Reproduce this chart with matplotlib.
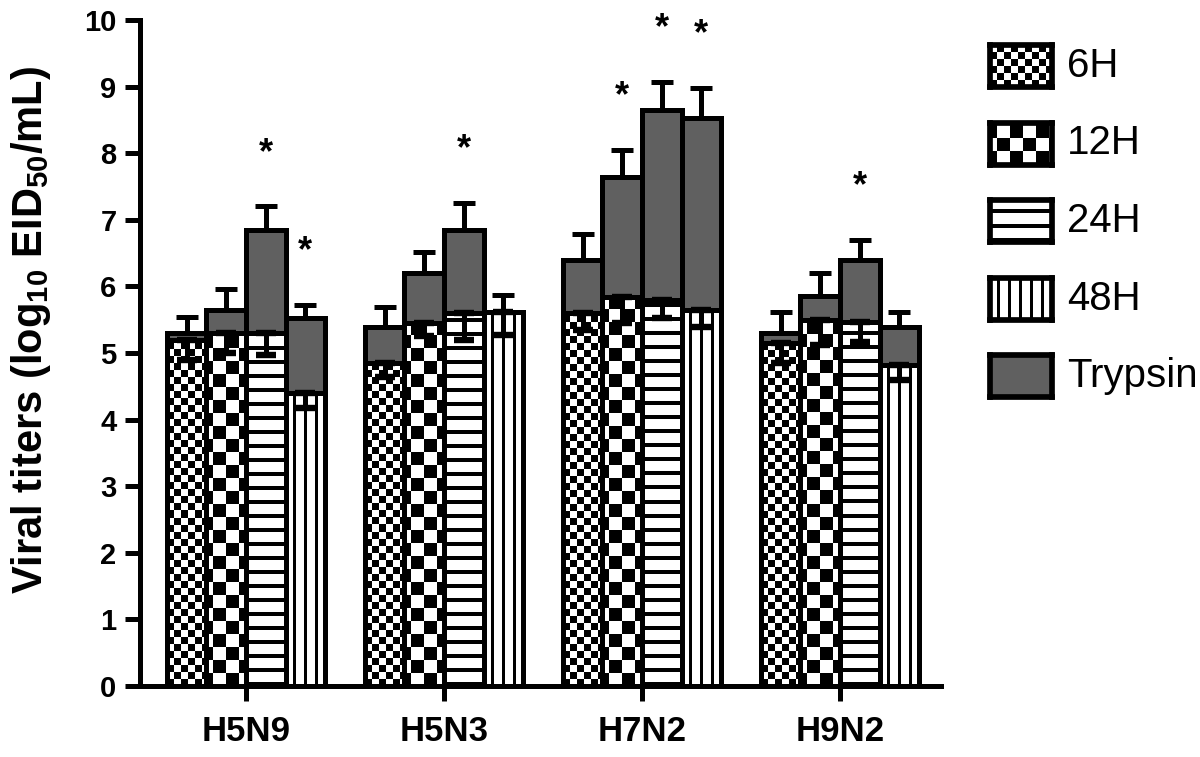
import numpy as np
import matplotlib
matplotlib.use("Agg")
import matplotlib.pyplot as plt

plt.rcParams['font.family'] = ['Liberation Sans', 'DejaVu Sans']
plt.rcParams['mathtext.fontset'] = 'custom'
plt.rcParams['mathtext.rm'] = 'Liberation Sans:bold'
plt.rcParams['mathtext.default'] = 'rm'

# data
groups = ["H5N9", "H5N3", "H7N2", "H9N2"]
hours = ["6H", "12H", "24H", "48H"]

hour_6h = [5.2, 4.85, 5.6, 5.15]
hour_12h = [5.3, 5.45, 5.84, 5.5]
hour_24h = [5.3, 5.6, 5.8, 5.47]
hour_48h = [4.4, 5.62, 5.65, 4.82]

hour_err_6h = [0.3, 0.21, 0.25, 0.3]
hour_err_12h = [0.3, 0.2, 0.39, 0.38]
hour_err_24h = [0.33, 0.4, 0.27, 0.3]
hour_err_48h = [0.23, 0.35, 0.26, 0.22]

tryp_6h = [5.3, 5.39, 6.4, 5.3]
tryp_12h = [5.65, 6.2, 7.64, 5.85]
tryp_24h = [6.85, 6.85, 8.65, 6.4]
tryp_48h = [5.52, 5.6, 8.53, 5.39]

tryp_err_6h = [0.24, 0.3, 0.38, 0.32]
tryp_err_12h = [0.31, 0.32, 0.41, 0.35]
tryp_err_24h = [0.35, 0.4, 0.42, 0.3]
tryp_err_48h = [0.2, 0.27, 0.45, 0.23]

# significance marks (*) per hour, per group
sig_6h = [False, False, False, False]
sig_12h = [False, False, True, False]
sig_24h = [True, True, True, True]
sig_48h = [True, False, True, False]

hour_vals = [hour_6h, hour_12h, hour_24h, hour_48h]
hour_errs = [hour_err_6h, hour_err_12h, hour_err_24h, hour_err_48h]
tryp_vals = [tryp_6h, tryp_12h, tryp_24h, tryp_48h]
tryp_errs = [tryp_err_6h, tryp_err_12h, tryp_err_24h, tryp_err_48h]
sigs = [sig_6h, sig_12h, sig_24h, sig_48h]

GRAY = "#606060"
LW = 3.6


def pattern(kind, h, w):
    i, j = np.mgrid[0:h, 0:w]
    i = h - 1 - i  # count rows from the bottom
    if kind == 0:
        return ((i // 7 + j // 7) % 2).astype(float)
    if kind == 1:
        return ((i // 13 + (j + 6) // 13) % 2).astype(float)
    if kind == 2:
        return (i % 14 >= 4).astype(float)
    return ((j + 4) % 11 >= 3).astype(float)


fig = plt.figure(figsize=(12, 7.57), dpi=100)
ax = fig.add_axes([140 / 1200, 71 / 757, 801 / 1200, 666 / 757])
ax.set_xlim(-0.535, 3.51)
ax.set_ylim(0, 10)

x = np.arange(len(groups))
width = 0.2
offsets = (np.arange(len(hours)) - 1.5) * width

def to_px(xx, yy):
    return ax.transData.transform((xx, yy))

for k in range(len(hours)):
    xs = x + offsets[k]
    # trypsin bars behind
    ax.bar(xs, tryp_vals[k], width, color=GRAY, edgecolor="black", linewidth=LW, zorder=2)
    ax.errorbar(xs, tryp_vals[k], yerr=[np.zeros(4), tryp_errs[k]], fmt="none",
                ecolor="black", elinewidth=LW, capsize=8, capthick=LW, zorder=1.9)
    # hour bars in front, with pattern fill
    bars = ax.bar(xs, hour_vals[k], width, color="white", edgecolor="none", zorder=3)
    for b in bars:
        x0, y0 = b.get_x(), b.get_y()
        x1, y1 = x0 + b.get_width(), y0 + b.get_height()
        p0 = to_px(x0, y0)
        p1 = to_px(x1, y1)
        wpx = max(int(round(p1[0] - p0[0])), 1)
        hpx = max(int(round(p1[1] - p0[1])), 1)
        im = ax.imshow(pattern(k, hpx, wpx), cmap="gray", vmin=0, vmax=1,
                       extent=(x0, x1, y0, y1), aspect="auto",
                       interpolation="nearest", zorder=3.1)
        im.set_clip_path(b)
    ax.bar(xs, hour_vals[k], width, fill=False, edgecolor="black", linewidth=LW, zorder=3.3)
    ax.errorbar(xs, hour_vals[k], yerr=[hour_errs[k], np.zeros(4)], fmt="none",
                ecolor="black", elinewidth=LW, capsize=7, capthick=LW + 1, zorder=3.4)
    for g in range(len(groups)):
        if sigs[k][g]:
            ax.text(xs[g], tryp_vals[k][g] + tryp_errs[k][g] + 0.8, "*",
                    ha="center", va="center", fontsize=26, fontweight="bold")

ax.set_xlim(-0.535, 3.51)
ax.set_ylim(0, 10)

for s in ["top", "right"]:
    ax.spines[s].set_visible(False)
for s in ["left", "bottom"]:
    ax.spines[s].set_linewidth(LW)
    ax.spines[s].set_zorder(5)

ax.set_yticks(range(0, 11))
ax.set_xticks(x)
ax.set_xticklabels(groups, fontsize=25, fontweight="bold")
ax.tick_params(axis="y", length=11, width=LW, labelsize=21, pad=6)
ax.tick_params(axis="x", length=11, width=LW, pad=10)
for lab in ax.get_yticklabels():
    lab.set_fontweight("bold")

ax.set_ylabel("Viral titers (log$_{10}$ EID$_{50}$/mL)", fontsize=30, fontweight="bold")
ax.yaxis.set_label_coords(-0.108, 0.535)

# legend drawn by hand on the right
legend_labels = hours + ["Trypsin"]
for n, lab in enumerate(legend_labels):
    yc = 66 + 77.5 * n
    lax = fig.add_axes([990 / 1200, (757 - yc - 21) / 757, 62 / 1200, 42 / 757])
    if n < 4:
        lax.imshow(pattern(n, 42, 62), cmap="gray", vmin=0, vmax=1,
                   aspect="auto", interpolation="nearest")
    else:
        lax.set_facecolor(GRAY)
    lax.set_xticks([])
    lax.set_yticks([])
    for s in lax.spines.values():
        s.set_linewidth(LW + 0.5)
    fig.text(1067 / 1200, (757 - yc) / 757, lab, fontsize=29, va="center", ha="left")

fig.savefig("out.png", dpi=100)
